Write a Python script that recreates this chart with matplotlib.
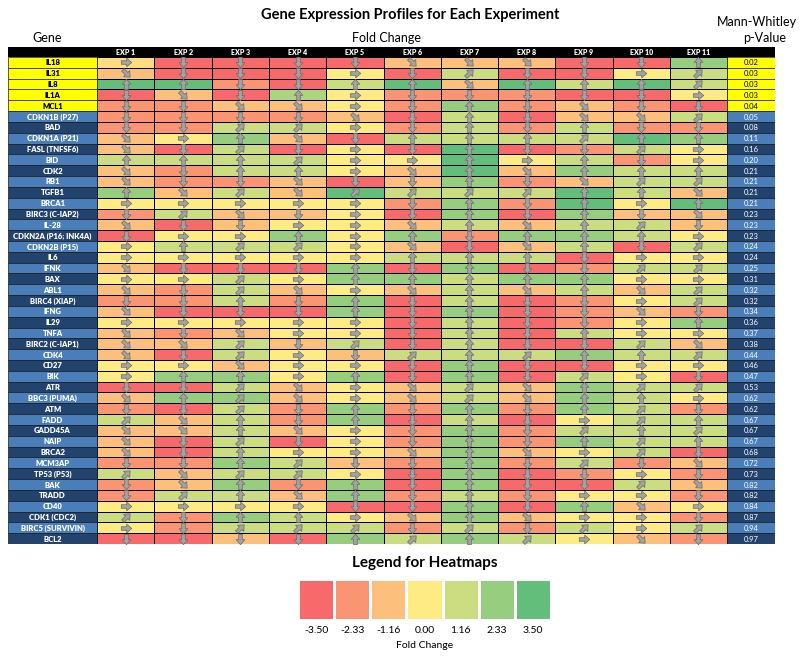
import numpy as np
import matplotlib
matplotlib.use('Agg')
import matplotlib.pyplot as plt
from matplotlib.colors import LinearSegmentedColormap, Normalize
from matplotlib.markers import MarkerStyle
from matplotlib.path import Path
from matplotlib.transforms import Affine2D

plt.rcParams['font.family'] = ['Lato', 'DejaVu Sans']

genes = ['IL18', 'IL31', 'IL8', 'IL1A', 'MCL1', 'CDKN1B (P27)', 'BAD', 'CDKN1A (P21)',
         'FASL (TNFSF6)', 'BID', 'CDK2', 'RB1', 'TGFB1', 'BRCA1', 'BIRC3 (C-IAP2)', 'IL-28',
         'CDKN2A (P16; INK4A)', 'CDKN2B (P15)', 'IL6', 'IFNK', 'BAX', 'ABL1', 'BIRC4 (XIAP)',
         'IFNG', 'IL29', 'TNFA', 'BIRC2 (C-IAP1)', 'CDK4', 'CD27', 'BIK', 'ATR', 'BBC3 (PUMA)',
         'ATM', 'FADD', 'GADD45A', 'NAIP', 'BRCA2', 'MCM3AP', 'TP53 (P53)', 'BAK', 'TRADD',
         'CD40', 'CDK1 (CDC2)', 'BIRC5 (SURVIVIN)', 'BCL2']
experiments = ['EXP 1', 'EXP 2', 'EXP 3', 'EXP 4', 'EXP 5', 'EXP 6', 'EXP 7', 'EXP 8',
               'EXP 9', 'EXP 10', 'EXP 11']
p_values = [0.02, 0.03, 0.03, 0.03, 0.04, 0.05, 0.08, 0.11, 0.16, 0.20, 0.21, 0.21, 0.21,
            0.21, 0.23, 0.23, 0.23, 0.24, 0.24, 0.25, 0.31, 0.32, 0.32, 0.34, 0.36, 0.37,
            0.38, 0.44, 0.46, 0.47, 0.53, 0.62, 0.62, 0.67, 0.67, 0.67, 0.68, 0.72, 0.73,
            0.82, 0.82, 0.84, 0.87, 0.94, 0.97]
n_significant = 5  # rows highlighted yellow (p < 0.05)

legend_values = [-3.50, -2.33, -1.16, 0.00, 1.16, 2.33, 3.50]

# fold change levels
R, O, o, Y, g, G, GG = legend_values
fold_change = [
    [-0.4, R, R, R, R, o, o, o, R, R, G],      # IL18
    [o, R, R, R, Y, R, g, R, R, Y, g],         # IL31
    [GG, GG, O, R, g, GG, o, GG, g, GG, g],    # IL8
    [R, o, R, 1.8, Y, O, O, O, R, R, Y],       # IL1A
    [O, O, o, o, Y, O, G, O, o, O, R],         # MCL1
    [O, O, O, O, o, R, g, R, o, o, g],         # CDKN1B
    [O, O, g, g, Y, O, g, O, g, O, O],         # BAD
    [o, Y, G, o, R, g, g, g, g, GG, G],        # CDKN1A
    [o, R, g, R, Y, R, GG, R, O, g, Y],        # FASL
    [g, g, g, g, Y, Y, GG, Y, g, O, Y],        # BID
    [o, O, g, g, Y, o, GG, o, G, g, g],        # CDK2
    [o, O, O, o, R, o, G, O, o, g, g],         # RB1
    [G, o, g, o, GG, g, g, g, GG, g, o],       # TGFB1
    [Y, Y, Y, Y, Y, O, G, O, GG, Y, GG],       # BRCA1
    [O, g, o, o, Y, R, G, R, G, o, o],         # BIRC3
    [o, R, o, Y, Y, o, g, o, g, g, o],         # IL-28
    [R, Y, Y, G, Y, G, O, G, G, g, Y],         # CDKN2A
    [Y, g, g, g, Y, o, R, o, g, R, g],         # CDKN2B
    [Y, Y, Y, Y, Y, g, g, g, R, Y, Y],         # IL6
    [o, R, R, R, G, R, G, R, O, g, g],         # IFNK
    [Y, Y, g, Y, G, G, g, G, G, Y, Y],         # BAX
    [o, O, g, o, Y, o, g, o, g, o, g],         # ABL1
    [O, O, g, O, G, R, g, R, O, Y, g],         # BIRC4
    [o, R, R, R, G, R, G, R, O, o, O],         # IFNG
    [Y, Y, Y, Y, Y, R, g, R, O, Y, G],         # IL29
    [o, O, o, Y, Y, R, g, R, g, Y, Y],         # TNFA
    [o, o, g, o, g, R, g, R, R, g, o],         # BIRC2
    [o, R, g, Y, o, g, g, g, G, g, g],         # CDK4
    [Y, Y, o, Y, Y, R, G, R, R, Y, Y],         # CD27
    [Y, G, G, Y, G, R, G, R, g, Y, R],         # BIK
    [R, R, g, o, Y, o, g, o, G, g, g],         # ATR
    [o, G, G, o, Y, o, g, o, G, g, Y],         # BBC3
    [O, R, g, O, G, O, G, O, G, g, O],         # ATM
    [g, o, g, O, G, R, g, R, Y, g, g],         # FADD
    [o, o, g, o, Y, O, G, O, g, g, g],         # GADD45A
    [o, R, g, R, Y, O, G, O, G, g, g],         # NAIP
    [o, R, g, Y, Y, o, G, o, Y, g, R],         # BRCA2
    [O, O, G, g, o, O, G, O, g, O, o],         # MCM3AP
    [g, o, g, g, Y, R, G, R, O, Y, O],         # TP53
    [O, o, G, O, G, R, G, R, R, g, o],         # BAK
    [O, g, g, o, G, O, g, O, Y, Y, O],         # TRADD
    [Y, Y, Y, Y, R, R, G, R, G, o, Y],         # CD40
    [g, O, G, g, Y, o, G, o, Y, Y, O],         # CDK1
    [Y, O, g, g, g, O, g, O, g, Y, g],         # BIRC5
    [R, R, o, R, G, g, G, g, Y, o, O],         # BCL2
]

# icon set arrows: D down, d down-right, r right, u up-right, U up
arrows = ['rDDDDdddDDU', 'dDDDrDuDDru', 'UUDDUUdUUUu', 'DdDUrDDDDDr', 'DDddrDUDdDD',
          'DDDDdDUDddu', 'DDuurDUDUDD', 'drUdDUUUuUU', 'dDuDrDUDDur', 'UUUurrUrUDr',
          'dDUUrdUdUUU', 'dDDdDDUDduu', 'UduduuuuUUd', 'rrrrrDUDUrU', 'DudDrDUDUDd',
          'dDDrrdUdUuD', 'DrrUrUDUUUr', 'rUuurdDdUDu', 'rrrrrUUUDrr', 'dDDDUDUDDuu',
          'rrurUUUUUrr', 'dDudrdUdUdu', 'DDUDUDUDDru', 'dDDDUDUDDdD', 'rrrrrDUDDrU',
          'dDdrrDUDUrr', 'dduDuDUDDud', 'dDurDuUuUUu', 'rrdrrDUDDrr', 'rUUrUDUDurD',
          'DDudrdudUuu', 'dUudrdudUUr', 'DDuDUDUDUuD', 'udUDUDUDruU', 'ddUdrDUDuUu',
          'dDuDrDUDUuU', 'dDUrrdUdruD', 'DDUuDDUDuDd', 'uduurDUDDrD', 'DdUDUDUDDud',
          'DuUdUDUDrrD', 'rrrrDDUDUdr', 'uDUUrdUdrrD', 'rDuuuDuDuru', 'DDDDUuUurdD']

arrow_angle = {'D': -90, 'd': -45, 'r': 0, 'u': 45, 'U': 90}

cmap = LinearSegmentedColormap.from_list('ryg', ['#F8696B', '#FFEB84', '#63BE7B'])
norm = Normalize(-3.5, 3.5)

W, H = 800, 668
fig = plt.figure(figsize=(W / 100, H / 100), dpi=100)

n_rows, n_cols = len(genes), len(experiments)
gene_w = 89.3 / 57.3     # gene column width in heatmap column units
pval_w = 48.0 / 57.3
head_h = 10.0 / 10.82

# table axes: x 8..775 px, y 47..544 px
ax = fig.add_axes([8 / W, 1 - 544 / H, 767 / W, 497 / H])
ax.set_xlim(-gene_w, n_cols + pval_w)
ax.set_ylim(n_rows, -head_h)
ax.axis('off')

data = np.array(fold_change)
ax.pcolormesh(np.arange(n_cols + 1), np.arange(n_rows + 1), data, cmap=cmap, norm=norm,
              edgecolors='black', linewidth=0.6)

rows = np.arange(n_rows)
light, dark = '#4a7ebb', '#23436f'
side_colors = ['#ffff00' if i < n_significant else (light if i % 2 == 1 else dark)
               for i in rows]
ax.barh(rows + 0.5, gene_w, left=-gene_w, height=1, color=side_colors,
        edgecolor='#1a1a1a', linewidth=0.5)
ax.barh(rows + 0.5, pval_w, left=n_cols, height=1, color=side_colors,
        edgecolor='#1a1a1a', linewidth=0.5)
ax.barh(-head_h / 2, n_cols + gene_w + pval_w, left=-gene_w, height=head_h,
        color='black', linewidth=0)

for i in rows:
    tc = 'black' if i < n_significant else 'white'
    ax.text(-gene_w / 2, i + 0.55, genes[i], ha='center', va='center', color=tc,
            fontsize=5.5, fontweight='heavy')
    ax.text(n_cols + pval_w / 2, i + 0.55, '%.2f' % p_values[i], ha='center',
            va='center', color=tc, fontsize=5.5)

for j, name in enumerate(experiments):
    ax.text(j + 0.5, -head_h / 2, name, ha='center', va='center', color='white',
            fontsize=5, fontweight='heavy')

# block arrow marker pointing right, rotated per direction
verts = [(-0.5, -0.17), (0.02, -0.17), (0.02, -0.42), (0.5, 0.0), (0.02, 0.42),
         (0.02, 0.17), (-0.5, 0.17), (-0.5, -0.17)]
codes = [Path.MOVETO] + [Path.LINETO] * 6 + [Path.CLOSEPOLY]
arrow_path = Path(verts, codes)

for key, angle in arrow_angle.items():
    xs, ys = [], []
    for i, row in enumerate(arrows):
        for j, c in enumerate(row):
            if c == key:
                xs.append(j + 0.5)
                ys.append(i + 0.5)
    m = MarkerStyle(arrow_path, transform=Affine2D().rotate_deg(angle))
    ax.plot(xs, ys, ls='none', marker=m, markersize=7.5, markerfacecolor='#a3a3a3',
            markeredgecolor='#6a6a6a', markeredgewidth=0.5)

# headings
fig.text(410 / W, 1 - 15 / H, 'Gene Expression Profiles for Each Experiment',
         ha='center', va='center', fontsize=10.5, fontweight='bold')
fig.text(47 / W, 1 - 38 / H, 'Gene', ha='center', va='center', fontsize=9)
fig.text(386 / W, 1 - 38 / H, 'Fold Change', ha='center', va='center', fontsize=9)
fig.text(757 / W, 1 - 22 / H, 'Mann-Whitley', ha='center', va='center', fontsize=9)
fig.text(765 / W, 1 - 38 / H, 'p-Value', ha='center', va='center', fontsize=9)

# legend
lax = fig.add_axes([298 / W, 1 - 620 / H, 253 / W, 41 / H])
lax.pcolormesh(np.arange(len(legend_values) + 1), [0, 1], np.array([legend_values]),
               cmap=cmap, norm=norm, edgecolors='white', linewidth=1)
lax.set_xlim(0, len(legend_values))
lax.set_ylim(0, 1)
lax.set_yticks([])
lax.set_xticks(np.arange(len(legend_values)) + 0.5)
lax.set_xticklabels(['%.2f' % v for v in legend_values], fontsize=7.5)
lax.tick_params(axis='x', length=0, pad=4)
for s in lax.spines.values():
    s.set_visible(False)
lax.set_xlabel('Fold Change', fontsize=7.5, labelpad=5)
lax.set_title('Legend for Heatmaps', fontsize=11, fontweight='bold', pad=9)

fig.savefig('out.png', dpi=100)
